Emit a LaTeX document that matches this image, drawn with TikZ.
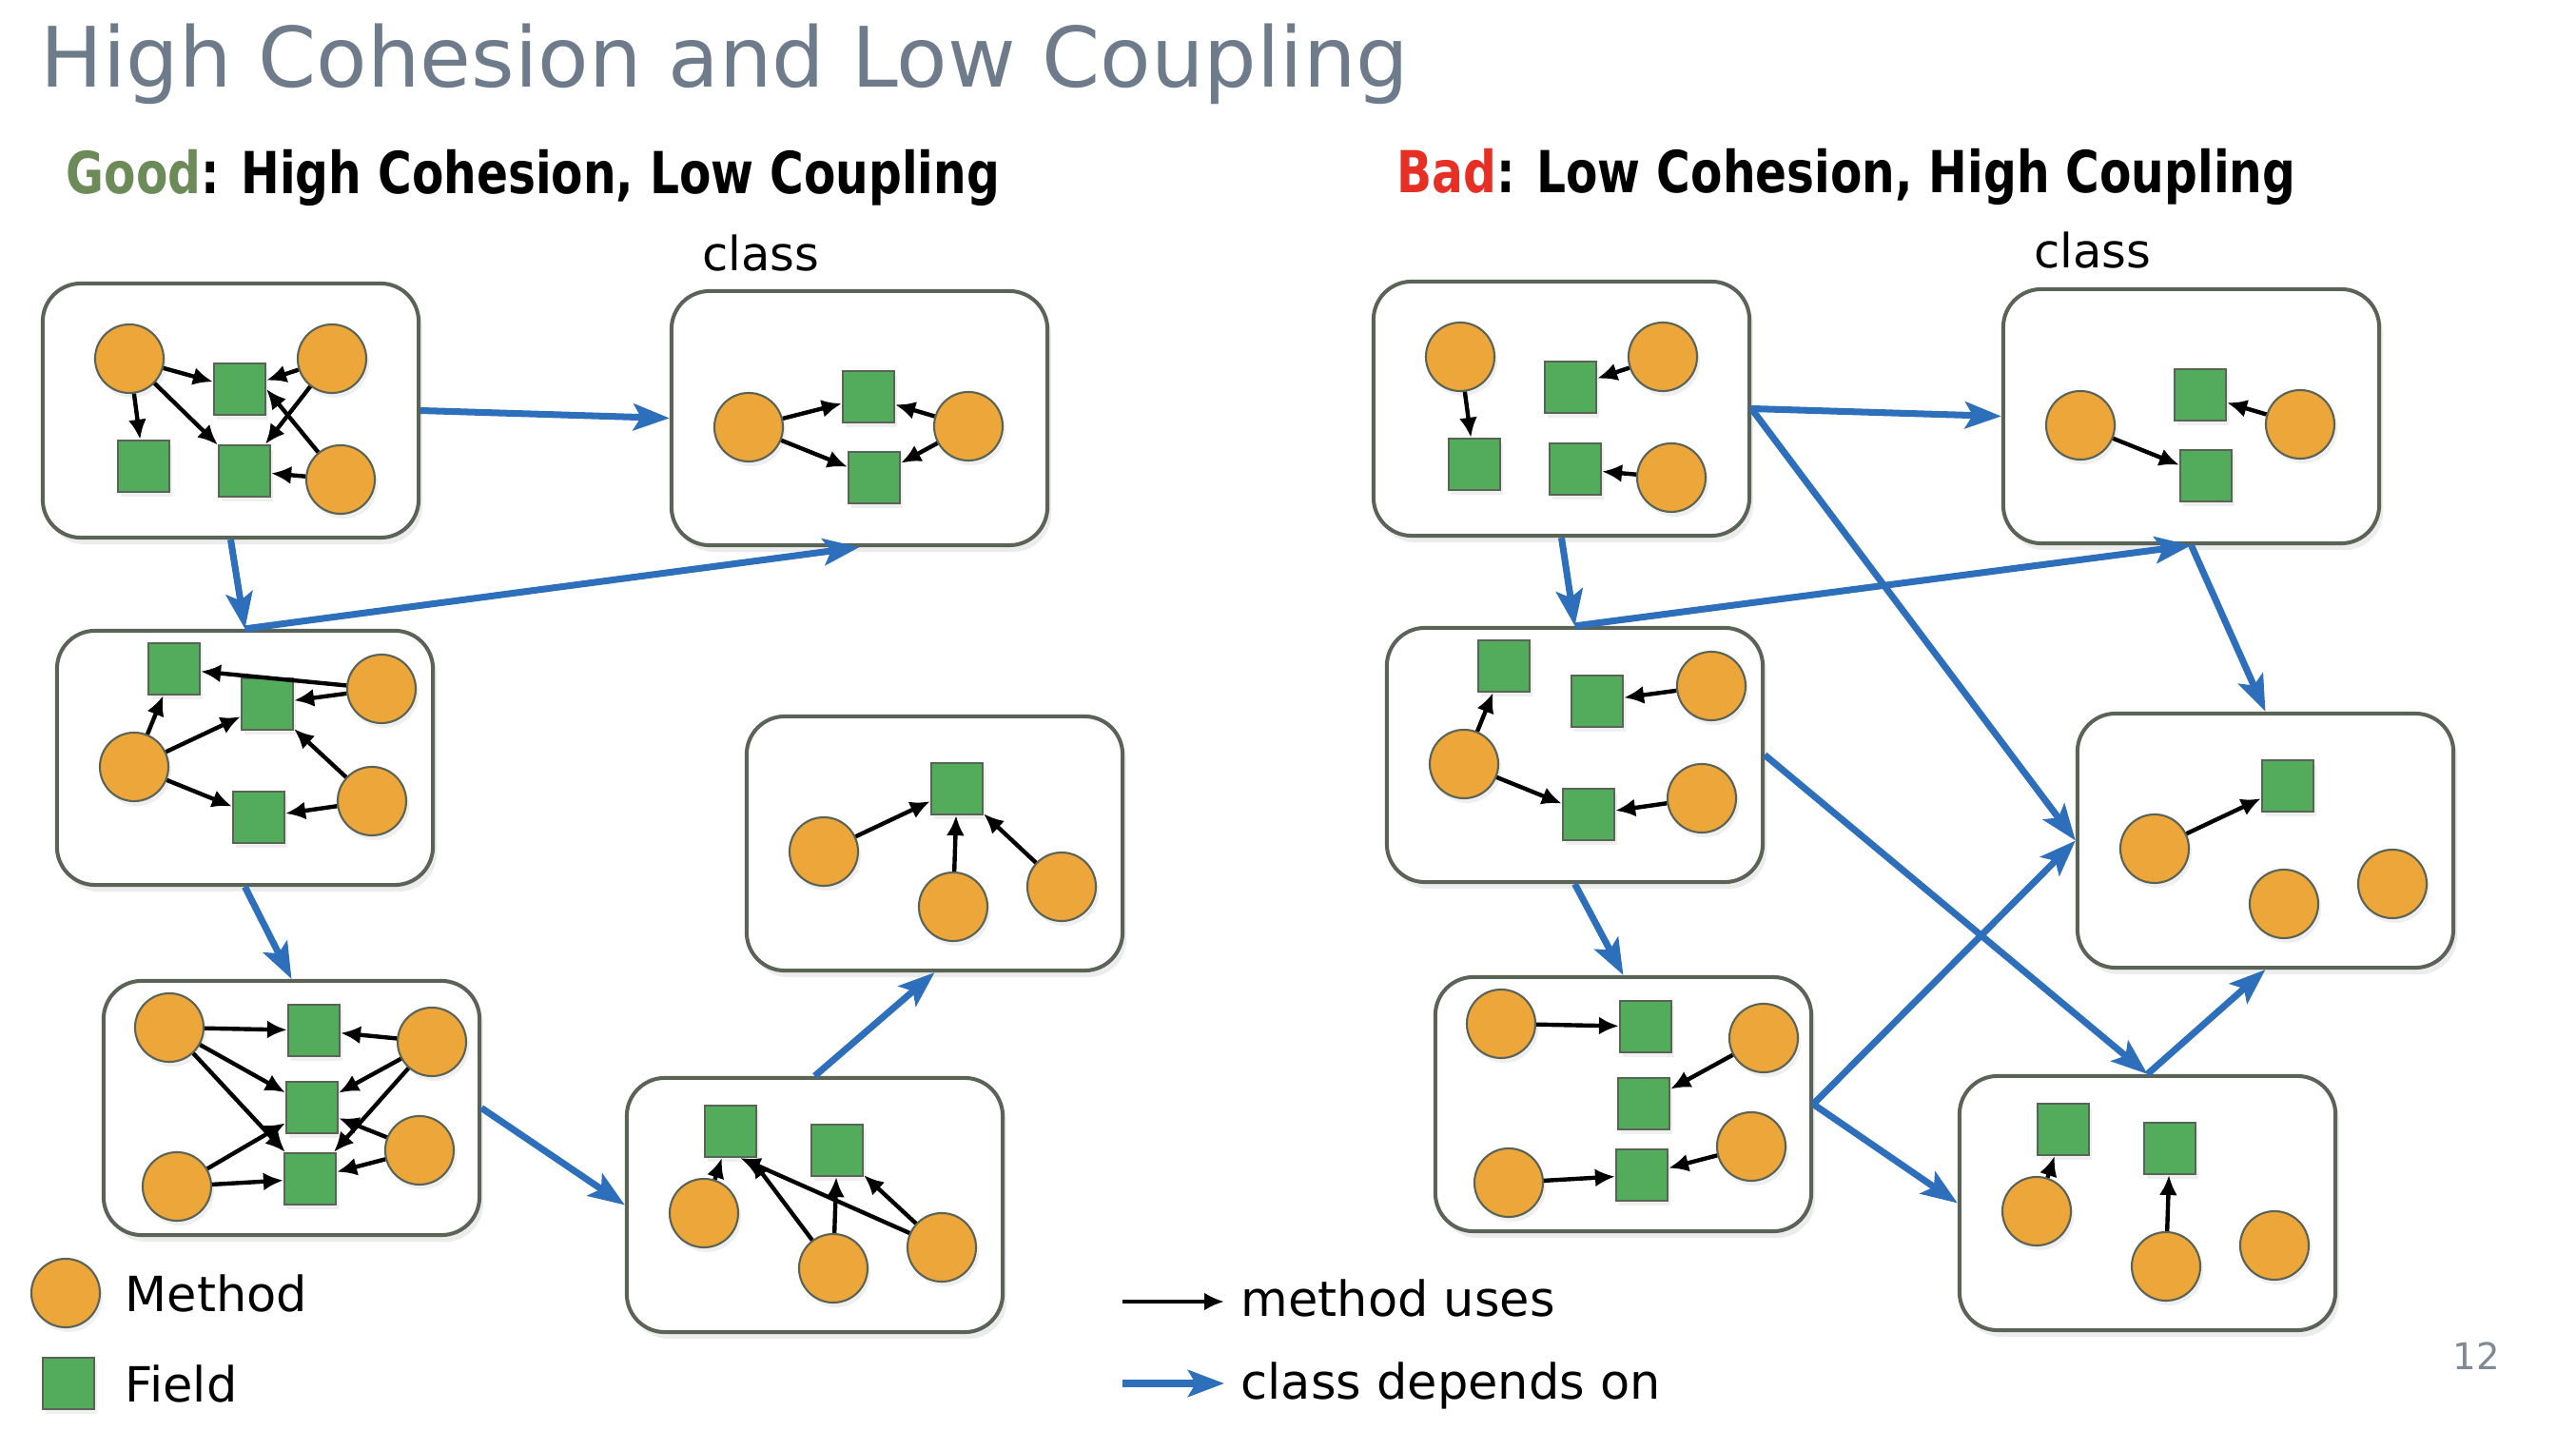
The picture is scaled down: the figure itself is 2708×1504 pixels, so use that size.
\documentclass[tikz,border=0pt]{standalone}
\usepackage{fontspec}
\setmainfont{DejaVu Sans}
\newfontfamily\headfont[FakeStretch=0.8]{DejaVu Sans}
\usetikzlibrary{arrows.meta,shadows}
\definecolor{outlinegray}{RGB}{90,100,86}
\definecolor{methodorange}{RGB}{237,166,58}
\definecolor{fieldgreen}{RGB}{82,172,92}
\definecolor{depblue}{RGB}{46,111,187}
\definecolor{titlegray}{RGB}{110,123,139}
\definecolor{goodgreen}{RGB}{108,139,88}
\definecolor{badred}{RGB}{230,48,38}
\definecolor{numbergray}{RGB}{128,138,148}
\tikzset{
    class-box/.style = {draw=outlinegray, fill=white, line width=1.15pt, rectangle, rounded corners=0.4cm, minimum width=3.95cm, minimum height=2.67cm, inner sep=0pt, drop shadow={opacity=0.15, shadow xshift=0.4mm, shadow yshift=-0.7mm}},
    method-node/.style = {draw=outlinegray, fill=methodorange, line width=0.6pt, circle, minimum size=0.72cm, inner sep=0pt, drop shadow={opacity=0.12, shadow xshift=0.3mm, shadow yshift=-0.5mm}},
    field-node/.style = {draw=outlinegray, fill=fieldgreen, line width=0.6pt, rectangle, minimum size=0.54cm, inner sep=0pt, drop shadow={opacity=0.12, shadow xshift=0.3mm, shadow yshift=-0.5mm}},
    uses-edge/.style = {-{Latex[length=2.1mm,width=1.9mm]}, line width=1.25pt, black},
    depends-edge/.style = {-{Stealth[length=3.8mm,width=2.8mm,inset=0.8mm]}, line width=2pt, depblue},
    class-label/.style = {font=\fontsize{14.1}{17}\selectfont, anchor=base, inner sep=0pt},
    legend-text/.style = {font=\fontsize{14.5}{17}\selectfont, inner sep=0pt},
}

\begin{document}
\begin{tikzpicture}[x=0.01cm, y=-0.01cm]
\useasboundingbox (0,0) rectangle (2708,1504);

% titles
\node[anchor=base west, inner sep=0pt, text=titlegray, font=\fontsize{24.9}{30}\selectfont] (title) at (42,92) {High Cohesion and Low Coupling};
\node[anchor=base west, inner sep=0pt, font=\headfont\bfseries\fontsize{17.3}{21}\selectfont] (goodtitle) at (69,204) {\textcolor{goodgreen}{Good}: High Cohesion, Low Coupling};
\node[anchor=base west, inner sep=0pt, font=\headfont\bfseries\fontsize{17.3}{21}\selectfont] (badtitle) at (1468,203) {\textcolor{badred}{Bad}: Low Cohesion, High Coupling};
\node[class-label] (goodclass) at (800,285) {class};
\node[class-label] (badclass) at (2200,282) {class};

%%%% good side
% top left
\begin{scope}[shift={(45,298)}]
\node[class-box] (g1) at (197.5,133.5) {};
\node[method-node] (g1m1) at (91,79) {};
\node[method-node] (g1m2) at (304,79) {};
\node[method-node] (g1m3) at (313,206) {};
\node[field-node] (g1f1) at (207,111) {};
\node[field-node] (g1f2) at (106,192) {};
\node[field-node] (g1f3) at (212,197) {};
\draw[uses-edge] (g1m1) -- (g1f1);
\draw[uses-edge] (g1m1) -- (g1f2);
\draw[uses-edge] (g1m1) -- (g1f3);
\draw[uses-edge] (g1m2) -- (g1f1);
\draw[uses-edge] (g1m2) -- (g1f3);
\draw[uses-edge] (g1m3) -- (g1f1.east);
\draw[uses-edge] (g1m3) -- (g1f3);
\end{scope}

% top right
\begin{scope}[shift={(706,306)}]
\node[class-box] (g2) at (197.5,133.5) {};
\node[method-node] (g2m1) at (81,143) {};
\node[method-node] (g2m2) at (312,142) {};
\node[field-node] (g2f1) at (207,111) {};
\node[field-node] (g2f2) at (213,196) {};
\draw[uses-edge] (g2m1) -- (g2f1);
\draw[uses-edge] (g2m1) -- (g2f2);
\draw[uses-edge] (g2m2) -- (g2f1);
\draw[uses-edge] (g2m2) -- (g2f2);
\end{scope}

% middle left
\begin{scope}[shift={(60,663)}]
\node[class-box] (g3) at (197.5,133.5) {};
\node[field-node] (g3f1) at (123,40) {};
\node[field-node] (g3f2) at (221,77) {};
\node[field-node] (g3f3) at (212,196) {};
\node[method-node] (g3m1) at (81,143) {};
\node[method-node] (g3m2) at (341,61) {};
\node[method-node] (g3m3) at (331,179) {};
\draw[uses-edge] (g3m1) -- (g3f1);
\draw[uses-edge] (g3m1) -- (g3f2);
\draw[uses-edge] (g3m1) -- (g3f3);
\draw[uses-edge] (g3m2) -- (g3f1);
\draw[uses-edge] (g3m2) -- (g3f2);
\draw[uses-edge] (g3m3) -- (g3f2);
\draw[uses-edge] (g3m3) -- (g3f3);
\end{scope}

% bottom left
\begin{scope}[shift={(109,1031)}]
\node[class-box] (g4) at (197.5,133.5) {};
\node[method-node] (g4m1) at (69,49) {};
\node[method-node] (g4m2) at (77,216) {};
\node[method-node] (g4m3) at (345,64) {};
\node[method-node] (g4m4) at (332,178) {};
\node[field-node] (g4f1) at (221,52) {};
\node[field-node] (g4f2) at (219,133) {};
\node[field-node] (g4f3) at (217,208) {};
\draw[uses-edge] (g4m1) -- (g4f1);
\draw[uses-edge] (g4m1) -- (g4f2);
\draw[uses-edge] (g4m1) -- (g4f3);
\draw[uses-edge] (g4m2) -- (g4f2);
\draw[uses-edge] (g4m2) -- (g4f3);
\draw[uses-edge] (g4m3) -- (g4f1);
\draw[uses-edge] (g4m3) -- (g4f2);
\draw[uses-edge] (g4m3) -- (g4f3);
\draw[uses-edge] (g4m4) -- (g4f2);
\draw[uses-edge] (g4m4) -- (g4f3);
\end{scope}

% bottom middle
\begin{scope}[shift={(659,1133)}]
\node[class-box] (g5) at (197.5,133.5) {};
\node[field-node] (g5f1) at (109,56) {};
\node[field-node] (g5f2) at (221,76) {};
\node[method-node] (g5m1) at (81,142) {};
\node[method-node] (g5m2) at (217,200) {};
\node[method-node] (g5m3) at (331,178) {};
\draw[uses-edge] (g5m1) -- (g5f1);
\draw[uses-edge] (g5m2) -- (g5f1);
\draw[uses-edge] (g5m3) -- (g5f1.-70);
\draw[uses-edge] (g5m2) -- (g5f2);
\draw[uses-edge] (g5m3) -- (g5f2);
\end{scope}

% middle right
\begin{scope}[shift={(785,753)}]
\node[class-box] (g6) at (197.5,133.5) {};
\node[field-node] (g6f1) at (221,76) {};
\node[method-node] (g6m1) at (81,142) {};
\node[method-node] (g6m2) at (217,200) {};
\node[method-node] (g6m3) at (331,179) {};
\draw[uses-edge] (g6m1) -- (g6f1);
\draw[uses-edge] (g6m2) -- (g6f1);
\draw[uses-edge] (g6m3) -- (g6f1);
\end{scope}

%%%% bad side
\begin{scope}[shift={(1444,296)}]
\node[class-box] (b1) at (197.5,133.5) {};
\node[method-node] (b1m1) at (91,79) {};
\node[method-node] (b1m2) at (304,79) {};
\node[method-node] (b1m3) at (313,206) {};
\node[field-node] (b1f1) at (207,111) {};
\node[field-node] (b1f2) at (106,192) {};
\node[field-node] (b1f3) at (212,197) {};
\draw[uses-edge] (b1m1) -- (b1f2);
\draw[uses-edge] (b1m2) -- (b1f1);
\draw[uses-edge] (b1m3) -- (b1f3);
\end{scope}

\begin{scope}[shift={(2106,304)}]
\node[class-box] (b2) at (197.5,133.5) {};
\node[method-node] (b2m1) at (81,143) {};
\node[method-node] (b2m2) at (312,142) {};
\node[field-node] (b2f1) at (207,111) {};
\node[field-node] (b2f2) at (213,196) {};
\draw[uses-edge] (b2m1) -- (b2f2);
\draw[uses-edge] (b2m2) -- (b2f1);
\end{scope}

\begin{scope}[shift={(1458,660)}]
\node[class-box] (b3) at (197.5,133.5) {};
\node[field-node] (b3f1) at (123,40) {};
\node[field-node] (b3f2) at (221,77) {};
\node[field-node] (b3f3) at (212,196) {};
\node[method-node] (b3m1) at (81,143) {};
\node[method-node] (b3m2) at (341,61) {};
\node[method-node] (b3m3) at (331,179) {};
\draw[uses-edge] (b3m1) -- (b3f1);
\draw[uses-edge] (b3m1) -- (b3f3);
\draw[uses-edge] (b3m2) -- (b3f2);
\draw[uses-edge] (b3m3) -- (b3f3);
\end{scope}

\begin{scope}[shift={(2184,750)}]
\node[class-box] (b4) at (197.5,133.5) {};
\node[field-node] (b4f1) at (221,76) {};
\node[method-node] (b4m1) at (81,142) {};
\node[method-node] (b4m2) at (217,200) {};
\node[method-node] (b4m3) at (331,179) {};
\draw[uses-edge] (b4m1) -- (b4f1);
\end{scope}

\begin{scope}[shift={(1509,1027)}]
\node[class-box] (b5) at (197.5,133.5) {};
\node[method-node] (b5m1) at (69,49) {};
\node[method-node] (b5m2) at (77,216) {};
\node[method-node] (b5m3) at (345,64) {};
\node[method-node] (b5m4) at (332,178) {};
\node[field-node] (b5f1) at (221,52) {};
\node[field-node] (b5f2) at (219,133) {};
\node[field-node] (b5f3) at (217,208) {};
\draw[uses-edge] (b5m1) -- (b5f1);
\draw[uses-edge] (b5m2) -- (b5f3);
\draw[uses-edge] (b5m3) -- (b5f2);
\draw[uses-edge] (b5m4) -- (b5f3);
\end{scope}

\begin{scope}[shift={(2060,1131)}]
\node[class-box] (b6) at (197.5,133.5) {};
\node[field-node] (b6f1) at (109,56) {};
\node[field-node] (b6f2) at (221,76) {};
\node[method-node] (b6m1) at (81,142) {};
\node[method-node] (b6m2) at (217,200) {};
\node[method-node] (b6m3) at (331,178) {};
\draw[uses-edge] (b6m1) -- (b6f1);
\draw[uses-edge] (b6m2) -- (b6f2);
\end{scope}

% class dependencies
\draw[depends-edge] (g1.east) -- (g2.west);
\draw[depends-edge] (g1.south) -- (g3.north);
\draw[depends-edge] (g3.north) -- (g2.south);
\draw[depends-edge] (g3.south) -- (g4.north);
\draw[depends-edge] (g4.east) -- (g5.west);
\draw[depends-edge] (g5.north) -- (g6.south);

\draw[depends-edge] (b1.east) -- (b2.west);
\draw[depends-edge] (b1.east) -- (b4.west);
\draw[depends-edge] (b1.south) -- (b3.north);
\draw[depends-edge] (b3.north) -- (b2.south);
\draw[depends-edge] (b2.south) -- (b4.north);
\draw[depends-edge] (b3.east) -- (b6.north);
\draw[depends-edge] (b3.south) -- (b5.north);
\draw[depends-edge] (b5.east) -- (b4.west);
\draw[depends-edge] (b5.east) -- (b6.west);
\draw[depends-edge] (b6.north) -- (b4.south);

% legend
\node[method-node] (legmethod) at (69,1359) {};
\node[legend-text, anchor=west] (legmethodtext) at (131,1359) {Method};
\node[field-node] (legfield) at (72,1454) {};
\node[legend-text, anchor=west] (legfieldtext) at (131,1454) {Field};
\coordinate (usesstart) at (1180,1368);
\coordinate (usesend) at (1287,1368);
\draw[uses-edge] (usesstart) -- (usesend);
\node[legend-text, anchor=base west] (usestext) at (1304,1384) {method uses};
\coordinate (dependsstart) at (1180,1454);
\coordinate (dependsend) at (1287,1454);
\draw[depends-edge] (dependsstart) -- (dependsend);
\node[legend-text, anchor=base west] (dependstext) at (1304,1471) {class depends on};

\node[text=numbergray, font=\fontsize{11}{13}\selectfont] (pagenum) at (2603,1425) {12};
\end{tikzpicture}
\end{document}
